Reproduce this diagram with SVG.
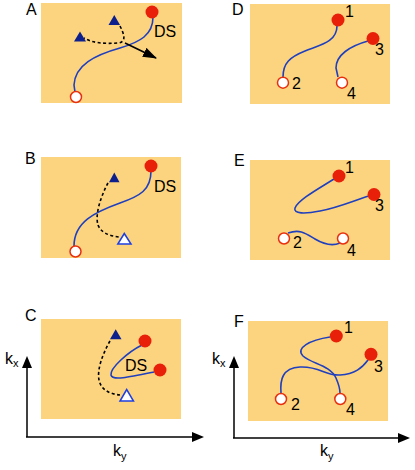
<svg xmlns="http://www.w3.org/2000/svg" width="415" height="470" viewBox="0 0 415 470">
<defs>
<style>
.bg{fill:#fcd47f}
.lbl{font-family:"Liberation Sans",Arial,sans-serif;font-size:16px;fill:#000}
.num{font-family:"Liberation Sans",Arial,sans-serif;font-size:16px;fill:#000}
.curve{fill:none;stroke:#1f3fbf;stroke-width:1.6}
.dash{fill:none;stroke:#000;stroke-width:1.6;stroke-dasharray:3,2.5}
.red{fill:#e8200a}
.open{fill:#fff;stroke:#e8300f;stroke-width:1.5}
.tri{fill:#0c1f8c}
.otri{fill:#fff;stroke:#1f3fdf;stroke-width:1.5}
.axis{fill:none;stroke:#000;stroke-width:1.5}
</style>
<marker id="bigah" viewBox="0 0 14 10" refX="13" refY="5" markerWidth="14" markerHeight="10" markerUnits="userSpaceOnUse" orient="auto">
<path d="M0,0 L14,5 L0,10 Z" fill="#000"/>
</marker>
</defs>

<g id="panelA"><rect class="bg" x="41" y="3" width="141" height="100"/><text class="lbl" x="26" y="15">A</text><text class="lbl" x="154" y="37">DS</text></g>
<g id="panelB"><rect class="bg" x="41" y="157" width="140" height="101"/><text class="lbl" x="25" y="164">B</text><text class="lbl" x="154" y="192">DS</text></g>
<g id="panelC"><rect class="bg" x="41" y="319" width="140" height="100"/><text class="lbl" x="25" y="321">C</text></g>
<g id="panelD"><rect class="bg" x="250" y="4" width="140" height="100"/><text class="lbl" x="232" y="15">D</text></g>
<g id="panelE"><rect class="bg" x="250" y="160" width="140" height="100"/><text class="lbl" x="234" y="166">E</text></g>
<g id="panelF"><rect class="bg" x="248" y="321" width="140" height="100"/><text class="lbl" x="234" y="327">F</text></g>

<g id="connectors">
<path class="curve" d="M153,17 C153,35 140,42 120,48 C95,55 75,65 74,85 L75,92"/>
<path class="dash" d="M120,26 C124,34 127,42 118,43 C105,44 92,43 84,38"/>
<line x1="125" y1="43" x2="156" y2="58" stroke="#000" stroke-width="1.6" marker-end="url(#bigah)"/>
<path class="curve" d="M151,171 C151,190 140,196 120,203 C95,212 74,222 74,246"/>
<path class="dash" d="M108,183 C100,198 95,215 98,225 C101,233 110,236 119,237"/>
<path class="curve" d="M142,345 C128,352 110,368 111,375 C112,381 130,377 154,372"/>
<path class="dash" d="M110,341 C102,355 97,370 99,380 C101,390 110,394 120,395"/>
<path class="curve" d="M337,26 C337,42 320,45 305,51 C290,57 283,63 283,77"/>
<path class="curve" d="M368,41 C350,46 336,55 336,68 L338,77"/>
<path class="curve" d="M334,179 C318,189 298,200 295,208 C293,214 305,214 320,211 C340,207 355,200 369,196"/>
<path class="curve" d="M288,233 C300,229 305,233 315,239 C325,245 333,246 340,243"/>
<path class="curve" d="M330,337 C310,340 295,348 303,356 C312,364 330,365 336,378 C339,385 340,390 340,393"/>
<path class="curve" d="M281,393 C280,380 282,368 300,367 C320,366 325,376 340,375 C355,374 362,368 368,360"/>
<path class="axis" d="M27,437 L27,366"/>
<path class="axis" d="M26,437 L194,437"/>
<path class="axis" d="M234,438 L234,366"/>
<path class="axis" d="M233,438 L400,438"/>
</g>
<g id="axisarrows">
<path d="M22,368 L27,356 L32,368 Z" fill="#000"/>
<path d="M192,432 L204,437 L192,442 Z" fill="#000"/>
<path d="M229,368 L234,356 L239,368 Z" fill="#000"/>
<path d="M398,433 L410,438 L398,443 Z" fill="#000"/>
</g>

<circle id="A-ds" class="red" cx="152" cy="12" r="6.5"/>
<circle id="A-start" class="open" cx="76" cy="97" r="5.5"/>
<polygon id="A-tri1" class="tri" points="114.3,15 108.5,25 120,25"/>
<polygon id="A-tri2" class="tri" points="80,31.5 74,41.5 86,41.5"/>
<circle id="B-ds" class="red" cx="151" cy="166" r="6.5"/>
<circle id="B-start" class="open" cx="75.5" cy="251.5" r="5.5"/>
<polygon id="B-tri1" class="tri" points="114.3,172.5 109,182.3 119.5,182.3"/>
<polygon id="B-tri2" class="otri" points="124.3,233.5 117.8,244 131,244"/>
<circle id="C-ds1" class="red" cx="145" cy="341" r="6.5"/>
<circle id="C-ds2" class="red" cx="160" cy="370" r="6.5"/>
<text class="lbl" x="125" y="371">DS</text>
<polygon id="C-tri1" class="tri" points="115.7,329.3 110,339.3 121.5,339.3"/>
<polygon id="C-tri2" class="otri" points="126.7,389.5 120,401 133.5,401"/>
<g id="D-1"><circle class="red" cx="338" cy="20" r="6.5"/><text class="num" x="345" y="17">1</text></g>
<g id="D-3"><circle class="red" cx="373" cy="38.5" r="6.5"/><text class="num" x="375" y="55">3</text></g>
<g id="D-2"><circle class="open" cx="283" cy="82.7" r="5.5"/><text class="num" x="292" y="89">2</text></g>
<g id="D-4"><circle class="open" cx="342" cy="82.7" r="5.5"/><text class="num" x="347" y="99">4</text></g>
<g id="E-1"><circle class="red" cx="339" cy="176" r="6.5"/><text class="num" x="345" y="173">1</text></g>
<g id="E-3"><circle class="red" cx="374" cy="194.5" r="6.5"/><text class="num" x="375" y="211">3</text></g>
<g id="E-2"><circle class="open" cx="284" cy="238.5" r="5.5"/><text class="num" x="293" y="248">2</text></g>
<g id="E-4"><circle class="open" cx="343" cy="238.5" r="5.5"/><text class="num" x="347" y="256">4</text></g>
<g id="F-1"><circle class="red" cx="336.3" cy="336" r="6.5"/><text class="num" x="344" y="333">1</text></g>
<g id="F-3"><circle class="red" cx="371" cy="354.3" r="6.5"/><text class="num" x="374" y="372">3</text></g>
<g id="F-2"><circle class="open" cx="281" cy="399" r="5.5"/><text class="num" x="291" y="410">2</text></g>
<g id="F-4"><circle class="open" cx="340.3" cy="399" r="5.5"/><text class="num" x="346" y="415">4</text></g>

<g id="axislabels">
<text class="lbl" x="5" y="364">k<tspan font-size="11" dy="3">x</tspan></text>
<text class="lbl" x="113" y="456">k<tspan font-size="11" dy="4">y</tspan></text>
<text class="lbl" x="212" y="364">k<tspan font-size="11" dy="3">x</tspan></text>
<text class="lbl" x="320" y="456">k<tspan font-size="11" dy="4">y</tspan></text>
</g>
</svg>
